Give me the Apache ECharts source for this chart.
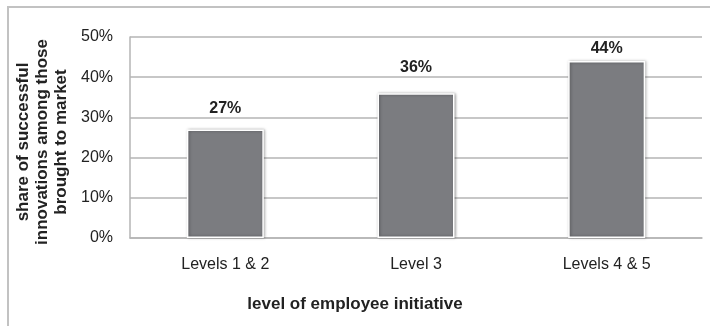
<!DOCTYPE html>
<html>
<head>
<meta charset="utf-8">
<script src="https://cdn.jsdelivr.net/npm/echarts@6/dist/echarts.min.js"></script>
<style>
  html, body { margin: 0; padding: 0; background: #fff; }
  #chart { width: 710px; height: 326px; }
</style>
</head>
<body>
<div id="chart"></div>
<script>
// Share of successful innovations by level of employee initiative
const categories = ['Levels 1 & 2', 'Level 3', 'Levels 4 & 5'];
const shareValues = [27, 36, 44];
const yTicks = [0, 10, 20, 30, 40, 50];
const yNameLines = ['share of successful', 'innovations among those', 'brought to market'];
const xName = 'level of employee initiative';

// label gap above each bar
const labelGaps = [13, 18, 5];

const FONT = '"Liberation Sans", Arial, Helvetica, sans-serif';
const chart = echarts.init(document.getElementById('chart'), null, { renderer: 'canvas' });

// rotated, stacked y-axis title
const yNameX = [23, 42, 61];
const yNameGraphics = yNameLines.map((line, i) => ({
  type: 'text',
  x: yNameX[i],
  y: 142,
  rotation: Math.PI / 2,
  style: {
    text: line,
    font: 'bold 17px ' + FONT,
    fill: '#222',
    textAlign: 'center',
    textVerticalAlign: 'middle'
  }
}));

chart.setOption({
  animation: false,
  grid: { left: 130, right: 8, top: 37, bottom: 88, containLabel: false },
  xAxis: {
    type: 'category',
    data: categories,
    axisLine: { show: true, lineStyle: { color: '#b5b5b5', width: 1.5 } },
    axisTick: { show: false },
    axisLabel: { color: '#222', fontSize: 16, fontFamily: FONT, margin: 19 }
  },
  yAxis: {
    type: 'value',
    min: yTicks[0],
    max: yTicks[yTicks.length - 1],
    interval: yTicks[1] - yTicks[0],
    axisLine: { show: true, lineStyle: { color: '#b5b5b5', width: 1.5 } },
    axisTick: { show: false },
    splitLine: { show: true, lineStyle: { color: '#b5b5b5', width: 1.5 } },
    axisLabel: {
      color: '#222', fontSize: 16, fontFamily: FONT, margin: 17,
      formatter: v => v + '%'
    }
  },
  series: [{
    type: 'bar',
    barWidth: 77,
    data: shareValues.map((v, i) => ({
      value: v,
      label: { distance: labelGaps[i] }
    })),
    itemStyle: {
      color: '#7b7c80',
      borderColor: '#ffffff',
      borderWidth: 1.5,
      shadowColor: 'rgba(0,0,0,0.35)',
      shadowBlur: 3,
      shadowOffsetX: 1,
      shadowOffsetY: 0
    },
    label: {
      show: true,
      position: 'top',
      color: '#222',
      fontSize: 16,
      fontWeight: 'bold',
      fontFamily: FONT,
      formatter: p => p.value + '%'
    }
  }],
  graphic: [
    {
      type: 'polyline',
      shape: { points: [[8, 326], [8, 7], [710, 7]] },
      style: { stroke: '#c2c2c2', lineWidth: 2, fill: null }
    },
    {
      type: 'text',
      x: 355,
      y: 304,
      style: {
        text: xName,
        font: 'bold 17px ' + FONT,
        fill: '#222',
        textAlign: 'center',
        textVerticalAlign: 'middle'
      }
    }
  ].concat(yNameGraphics)
});
</script>
</body>
</html>
